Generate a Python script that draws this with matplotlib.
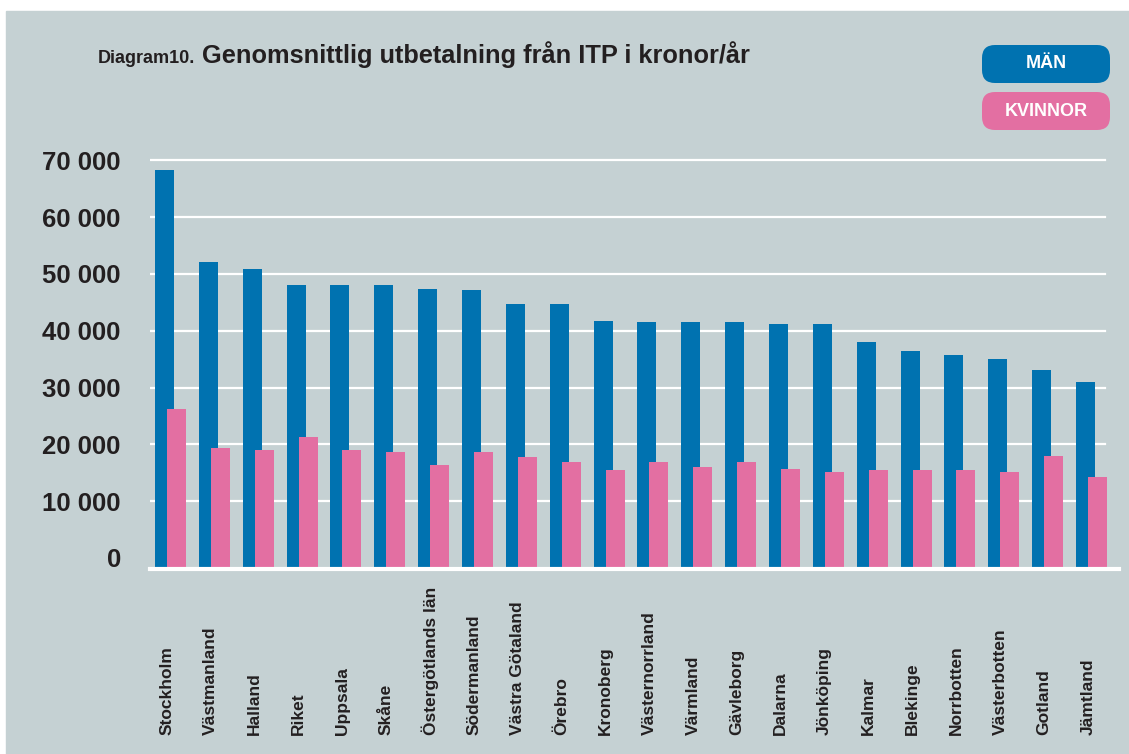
import matplotlib
matplotlib.use("Agg")
import matplotlib.pyplot as plt
from matplotlib.patches import Rectangle, FancyBboxPatch
import numpy as np

plt.rcParams['font.family'] = ['Liberation Sans', 'DejaVu Sans']

regions = ['Stockholm', 'Västmanland', 'Halland', 'Riket', 'Uppsala', 'Skåne',
           'Östergötlands län', 'Södermanland', 'Västra Götaland', 'Örebro',
           'Kronoberg', 'Västernorrland', 'Värmland', 'Gävleborg', 'Dalarna',
           'Jönköping', 'Kalmar', 'Blekinge', 'Norrbotten', 'Västerbotten',
           'Gotland', 'Jämtland']
men = [68300, 52100, 50900, 48100, 48100, 48100, 47400, 47200, 44700, 44700,
       41700, 41500, 41500, 41500, 41200, 41200, 38000, 36400, 35700, 35000,
       33100, 31000]
women = [26200, 19400, 19000, 21300, 19000, 18700, 16400, 18700, 17800, 16900,
         15500, 16900, 16000, 16900, 15700, 15100, 15500, 15500, 15500, 15100,
         18000, 14300]
yticks = [0, 10000, 20000, 30000, 40000, 50000, 60000, 70000]

BG = '#c5d1d3'
BLUE = '#0072b0'
PINK = '#e36fa2'
TXT = '#231f20'
W, H = 1129, 754

fig = plt.figure(figsize=(W / 100, H / 100), dpi=100, facecolor='white')
fig.patches.append(Rectangle((6 / W, 0), 1 - 6 / W, 1 - 11 / H,
                             transform=fig.transFigure, color=BG, zorder=-5))

ax = fig.add_axes([150 / W, 1 - 569 / H, 969 / W, 420 / H])
ax.set_facecolor('none')
ymin = -1940
ax.set_ylim(ymin, 72000)
ax.set_xlim(-0.467, 21.626)

x = np.arange(len(regions))
off = 0.137
width = 0.433
base = np.full(len(regions), ymin)
ax.bar(x - off, np.array(men) - base, bottom=base, width=width,
       color=BLUE, zorder=2)
ax.bar(x + off, np.array(women) - base, bottom=base, width=width,
       color=PINK, zorder=3)

for v in yticks[1:]:
    ax.axhline(v, xmin=0, xmax=0.9856, color='white', lw=1.6, zorder=1)
ax.axhline(ymin, color='white', lw=3, zorder=4, clip_on=False)

ax.set_yticks(yticks)
ax.set_yticklabels([f"{v:,}".replace(",", " ") for v in yticks],
                   fontsize=18.5, fontweight='bold', color=TXT)
ax.tick_params(axis='y', length=0, pad=21)
ax.set_xticks([])
for s in ax.spines.values():
    s.set_visible(False)

for i, name in enumerate(regions):
    ax.text(i - off + 0.05, -0.395, name, transform=ax.get_xaxis_transform(),
            rotation=90, ha='center', va='bottom', fontsize=12.5,
            fontweight='bold', color=TXT)

# title and legend boxes in pixel space
ov = fig.add_axes([0, 0, 1, 1])
ov.set_xlim(0, W)
ov.set_ylim(H, 0)
ov.axis('off')
ov.text(98, 63, 'Diagram10.', fontsize=13, fontweight='bold', color=TXT,
        va='baseline')
ov.text(202, 63, 'Genomsnittlig utbetalning från ITP i kronor/år', fontsize=18.3,
        fontweight='bold', color=TXT, va='baseline')

for y0, label, col in [(45, 'MÄN', BLUE), (92, 'KVINNOR', PINK)]:
    ov.add_patch(FancyBboxPatch((982, y0), 128, 38,
                                boxstyle='round,pad=0,rounding_size=13',
                                color=col, lw=0))
    ov.text(1046, y0 + 19, label, color='white', fontsize=13,
            fontweight='bold', ha='center', va='center')

fig.savefig('out.png', dpi=100, facecolor=fig.get_facecolor())
